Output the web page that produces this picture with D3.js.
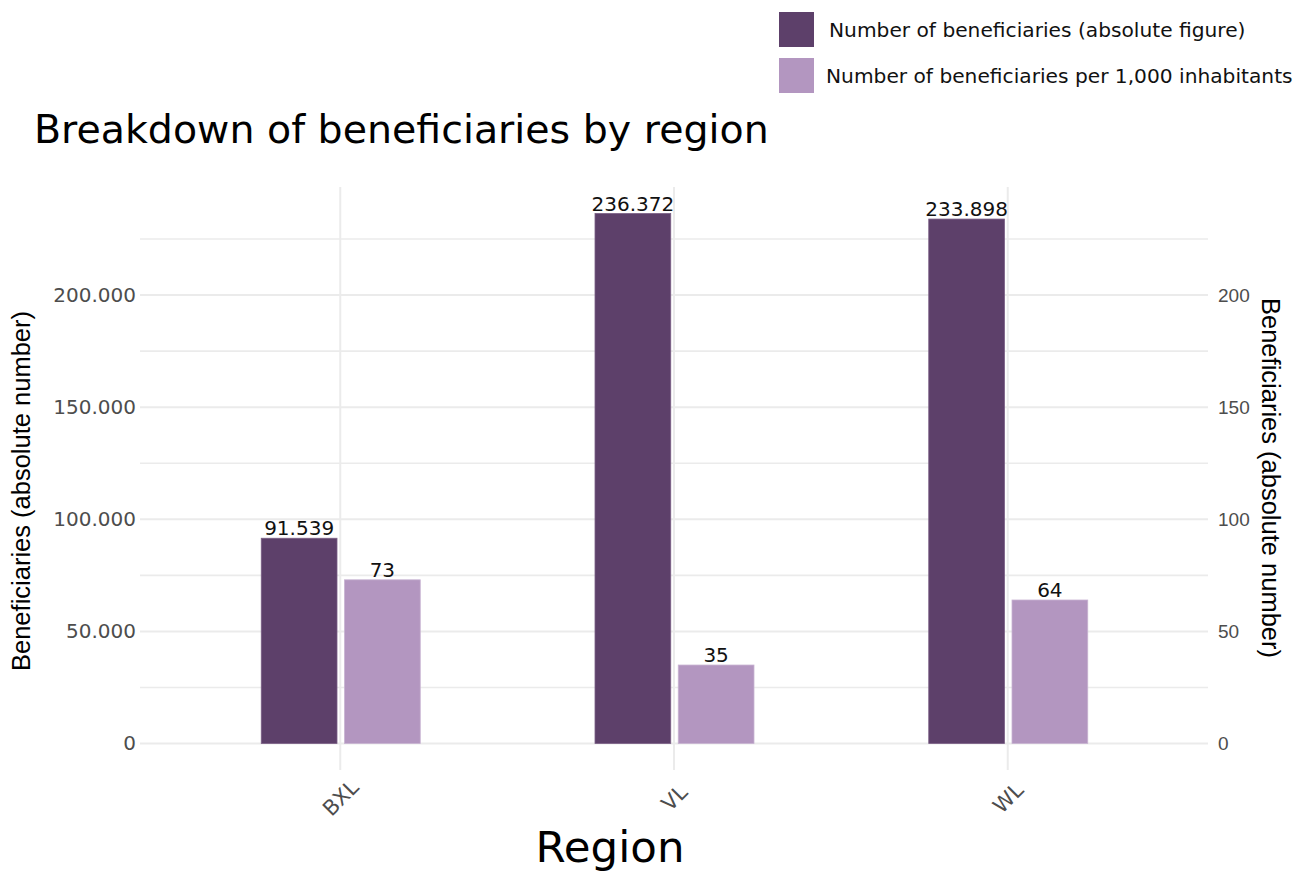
<!DOCTYPE html>
<html>
<head>
<meta charset="utf-8">
<script src="https://cdn.jsdelivr.net/npm/d3@7"></script>
<style>
  html, body { margin: 0; padding: 0; background: #ffffff; }
  svg { display: block; }
</style>
</head>
<body>
<svg id="chart" width="1294" height="873"></svg>
<script>
// Regions and the two measures per region
const regions = ["BXL", "VL", "WL"];
const absoluteCounts = [91539, 236372, 233898];
const perThousand = [73, 35, 64];
const seriesNames = [
  "Number of beneficiaries (absolute figure)",
  "Number of beneficiaries per 1,000 inhabitants"
];
const leftTicks = [0, 50000, 100000, 150000, 200000];
const rightTicks = [0, 50, 100, 150, 200];
const minorTicks = [25000, 75000, 125000, 175000, 225000];

const colors = ["#5d406a", "#b396c0"];

const svg = d3.select("#chart");
const panel = { left: 140, right: 1208, top: 187, bottom: 770 };

// Belgian-style number formatting: dot as thousands separator
const locale = d3.formatLocale({ decimal: ",", thousands: ".", grouping: [3], currency: ["", ""] });
const fmt = locale.format(",d");

// y domain: data range expanded by 5% on both sides
const maxVal = d3.max(absoluteCounts);
const pad = maxVal * 0.05;
const y = d3.scaleLinear().domain([-pad, maxVal + pad]).range([panel.bottom, panel.top]);
const yR = d3.scaleLinear().domain([-pad / 1000, (maxVal + pad) / 1000]).range([panel.bottom, panel.top]);

const x = d3.scalePoint().domain(regions).range([panel.left, panel.right]).padding(0.6);
const x1 = d3.scaleBand().domain(seriesNames).range([-79, 80]).paddingInner(0.09);

// grid
const grid = svg.append("g").attr("stroke", "#ebebeb").attr("stroke-width", 2);
grid.selectAll("line.minor").data(minorTicks).join("line")
  .attr("x1", panel.left).attr("x2", panel.right)
  .attr("y1", d => y(d)).attr("y2", d => y(d))
  .attr("stroke-width", 1.6);
grid.selectAll("line.major").data(leftTicks).join("line")
  .attr("x1", panel.left).attr("x2", panel.right)
  .attr("y1", d => y(d)).attr("y2", d => y(d));
grid.selectAll("line.vert").data(regions).join("line")
  .attr("x1", d => x(d)).attr("x2", d => x(d))
  .attr("y1", panel.top).attr("y2", panel.bottom);

// bars
const rows = regions.map((r, i) => ({ region: r, values: [
  { s: seriesNames[0], v: absoluteCounts[i], y: y(absoluteCounts[i]), label: fmt(absoluteCounts[i]) },
  { s: seriesNames[1], v: perThousand[i], y: yR(perThousand[i]), label: String(perThousand[i]) }
]}));

const groups = svg.append("g").selectAll("g").data(rows).join("g")
  .attr("transform", d => `translate(${x(d.region)},0)`);

groups.selectAll("rect").data(d => d.values).join("rect")
  .attr("x", d => x1(d.s))
  .attr("width", x1.bandwidth())
  .attr("y", d => d.y)
  .attr("height", d => y(0) - d.y)
  .attr("fill", (d, i) => colors[i])
  .attr("stroke", (d, i) => i === 0 ? "#7a5f86" : "#c8b3d2")
  .attr("stroke-width", 0.8);

groups.selectAll("text").data(d => d.values).join("text")
  .attr("x", d => x1(d.s) + x1.bandwidth() / 2)
  .attr("y", d => d.y - 3)
  .attr("text-anchor", "middle")
  .attr("font-family", "DejaVu Sans")
  .attr("font-size", 20)
  .attr("fill", "#111")
  .text(d => d.label);

// left axis
const leftAxis = svg.append("g")
  .attr("transform", `translate(${panel.left},0)`)
  .call(d3.axisLeft(y).tickValues(leftTicks).tickFormat(fmt).tickSize(0).tickPadding(4));
leftAxis.select(".domain").remove();
leftAxis.selectAll("text")
  .attr("font-family", "DejaVu Sans").attr("font-size", 20).attr("fill", "#4d4d4d");

// right axis
const rightAxis = svg.append("g")
  .attr("transform", `translate(${panel.right},0)`)
  .call(d3.axisRight(yR).tickValues(rightTicks).tickFormat(d3.format("d")).tickSize(0).tickPadding(10));
rightAxis.select(".domain").remove();
rightAxis.selectAll("text")
  .attr("font-family", "Liberation Sans").attr("font-size", 19).attr("fill", "#4d4d4d");

// category axis
const xAxis = svg.append("g")
  .attr("transform", `translate(0,${panel.bottom})`)
  .call(d3.axisBottom(x).tickSize(0).tickPadding(0));
xAxis.select(".domain").remove();
xAxis.selectAll("text")
  .attr("font-family", "DejaVu Sans").attr("font-size", 21).attr("fill", "#4d4d4d")
  .attr("text-anchor", "middle").attr("dominant-baseline", "central")
  .attr("y", 0).attr("dy", null)
  .attr("transform", "translate(0,28) rotate(-45)");

// titles
svg.append("text").attr("x", 34).attr("y", 143)
  .attr("font-family", "DejaVu Sans").attr("font-size", 39.5).attr("fill", "#000")
  .text("Breakdown of beneficiaries by region");

svg.append("text").attr("x", 610).attr("y", 862).attr("text-anchor", "middle")
  .attr("font-family", "DejaVu Sans").attr("font-size", 43.5).attr("fill", "#000")
  .text("Region");

svg.append("text")
  .attr("transform", "translate(21,491) rotate(-90)")
  .attr("text-anchor", "middle").attr("dominant-baseline", "central")
  .attr("font-family", "Liberation Sans").attr("font-size", 25.5).attr("fill", "#000")
  .text("Beneficiaries (absolute number)");

svg.append("text")
  .attr("transform", "translate(1271,478) rotate(90)")
  .attr("text-anchor", "middle").attr("dominant-baseline", "central")
  .attr("font-family", "Liberation Sans").attr("font-size", 25.5).attr("fill", "#000")
  .text("Beneficiaries (absolute number)");

// legend
const legend = svg.append("g").attr("transform", "translate(779,12)");
const items = legend.selectAll("g").data(seriesNames).join("g")
  .attr("transform", (d, i) => `translate(0,${i * 46})`);
items.append("rect").attr("width", 35).attr("height", 35)
  .attr("fill", (d, i) => colors[i]);
items.append("text").attr("x", (d, i) => i === 0 ? 50 : 47).attr("y", 18)
  .attr("dominant-baseline", "central")
  .attr("font-family", "DejaVu Sans").attr("font-size", 20.2).attr("fill", "#111")
  .text(d => d);
</script>
</body>
</html>
